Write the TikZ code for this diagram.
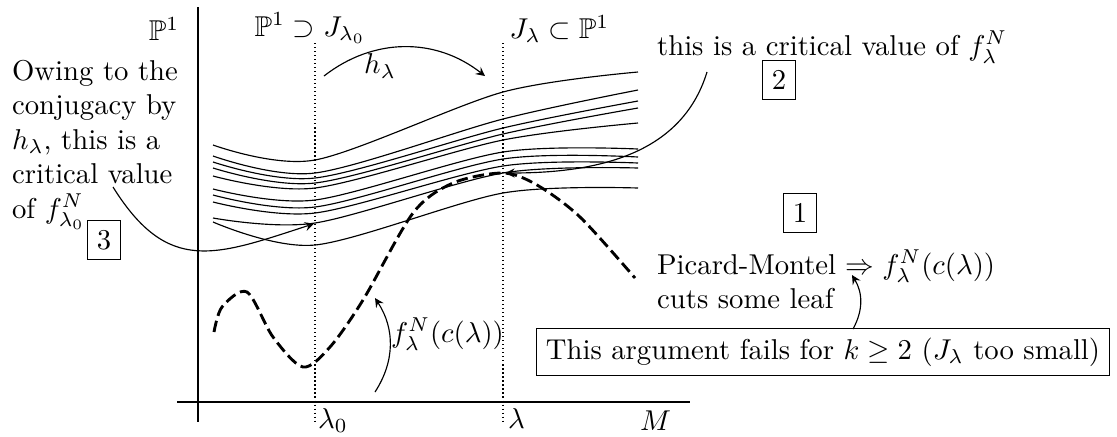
\documentclass[tikz,border=0pt]{standalone}
\usepackage{amsmath,amssymb}
\begin{document}
\begin{tikzpicture}[scale=0.1225, >=stealth,
    leaf/.style={thin},
    guide/.style={densely dotted},
    numbox/.style={draw, thin},
    orbit/.style={line width=1pt, dash pattern=on 4pt off 1.8pt}]
    \useasboundingbox (0,0) rectangle (111.7,43.6);
    % Axes
    \draw[thick] (19.8,42.9) -- (19.8,1.4);
    \draw[thick] (17.7,3.4) -- (69.0,3.4);
    \draw[guide] (31.5,39.3) -- (31.5,1.4);
    \draw[guide] (50.3,39.3) -- (50.3,1.4);
    \node[anchor=north west] (lz) at (30.8,3.76) {$\lambda_0$};
    \node[anchor=north west] (la) at (49.8,3.76) {$\lambda$};
    \node[anchor=north west] (M) at (63.0,3.56) {$M$};
    % Fibres
    \node (P) at (16.4,40.7) {$\mathbb{P}^1$};
    \node (Jz) at (31.0,40.8) {$\mathbb{P}^1 \supset J_{\lambda_0}$};
    \node (Jl) at (55.95,40.7) {$J_\lambda \subset \mathbb{P}^1$};
    \coordinate (hs) at (32.4,36.0);
    \coordinate (ht) at (48.5,36.0);
    \draw[->] (hs) to[bend left=38] (ht);
    \node (h) at (38.0,37.0) {$h_\lambda$};
    % Leaves
    \foreach \a/\b/\c/\d in {29.1/27.6/34.4/36.4, 28.0/26.3/31.7/34.6,
        27.4/25.8/30.8/33.5, 26.8/25.3/30.2/32.8, 26.0/24.8/29.6/31.3,
        24.7/23.6/28.4/28.7, 24.1/22.9/27.7/27.9, 23.4/22.3/27.0/27.3,
        21.8/21.3/26.3/26.8, 21.4/19.1/24.3/24.8}
        \draw[leaf] plot[smooth] coordinates {(21.3,\a) (31.5,\b) (50.3,\c) (63.8,\d)};
    % Critical orbit
    \draw[orbit] plot[smooth] coordinates {(21.4,10.4) (22.2,12.9) (24.7,14.4)
        (27.3,9.9) (30.3,6.9) (33.0,8.9) (36.3,13.6) (41.3,22.3) (45.3,25.3)
        (50.3,26.3) (53.7,25.1) (58.0,21.9) (63.5,15.8)};
    \fill (31.5,21.3) coordinate (cz) circle (1.1pt);
    \fill (50.3,26.3) coordinate (cl) circle (1.1pt);
    \coordinate (fs) at (37.5,4.4);
    \coordinate (ft) at (37.5,13.8);
    \draw[->] (fs) to[bend right=33] (ft);
    \node[anchor=west] (fc) at (38.1,10.2) {$f_\lambda^N(c(\lambda))$};
    % Remarks
    \node[anchor=north west, align=left] (own) at (0.2,38.6)
        {Owing to the\\ conjugacy by\\ $h_\lambda$, this is a\\ critical value\\ of $f_{\lambda_0}^N$};
    \node[numbox] (n3) at (10.4,19.6) {3};
    \coordinate (os) at (11.3,24.9);
    \draw[->] (os) to[out=-58, in=198, looseness=1.3] ([xshift=-3pt,yshift=-2pt]cz);
    \node[anchor=base west] (crit) at (64.7,38.1) {this is a critical value of $f_\lambda^N$};
    \node[numbox] (n2) at (77.9,35.6) {2};
    \coordinate (cs) at (70.7,36.4);
    \draw[->] (cs) to[out=-107, in=0] ([xshift=7pt]cl);
    \node[numbox] (n1) at (80.0,22.3) {1};
    \node[anchor=north west, align=left] (pm) at (64.7,19.6)
        {Picard-Montel $\Rightarrow f_\lambda^N(c(\lambda))$\\ cuts some leaf};
    \node[draw, thin] (fail) at (82.3,8.4) {This argument fails for $k \geq 2$ ($J_\lambda$ too small)};
    \coordinate (ps) at (85.3,10.7);
    \coordinate (pt) at (85.2,16.1);
    \draw[->] (ps) to[bend right=30] (pt);
\end{tikzpicture}
\end{document}
